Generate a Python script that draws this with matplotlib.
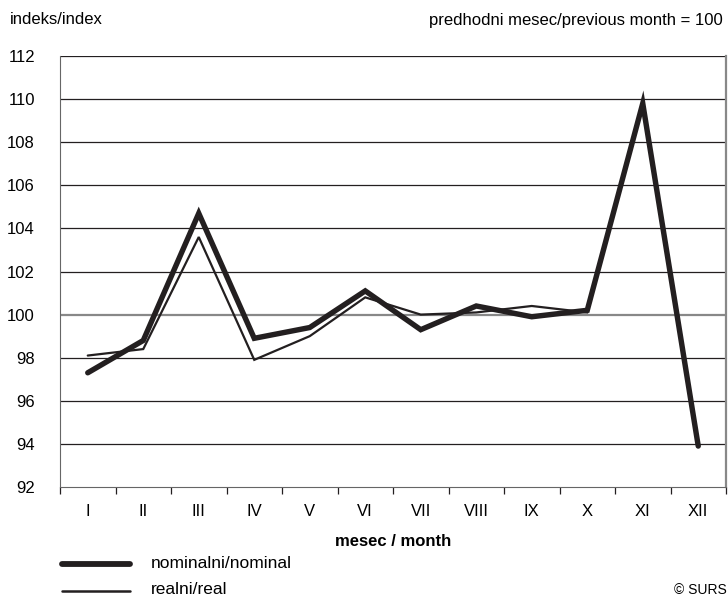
import matplotlib.pyplot as plt
import numpy as np

# vrednosti odčitane s slike
meseci = ['I', 'II', 'III', 'IV', 'V', 'VI', 'VII', 'VIII', 'IX', 'X', 'XI', 'XII']
nominalni = [97.3, 98.8, 104.7, 98.9, 99.4, 101.1, 99.3, 100.4, 99.9, 100.2, 109.8, 93.9]
realni = [98.1, 98.4, 103.6, 97.9, 99.0, 100.8, 100.0, 100.1, 100.4, 100.1, 109.9, 93.9]
y_ticks = list(range(92, 113, 2))

plt.rcParams['font.family'] = ['Liberation Sans Narrow', 'Liberation Sans', 'DejaVu Sans']
col = '#231f20'
fs = 12

fig = plt.figure(figsize=(7.28, 5.96), dpi=100)
ax = fig.add_axes([60 / 728, 109 / 596, 666 / 728, 431 / 596])

x = np.arange(len(meseci))
ax.plot(x, realni, color=col, lw=1.6, solid_joinstyle='miter', solid_capstyle='round', zorder=3)
ax.plot(x, nominalni, color=col, lw=3.9, solid_joinstyle='miter', solid_capstyle='round', zorder=4)

ax.set_xlim(-0.5, len(meseci) - 0.5)
ax.set_ylim(92, 112)
ax.set_yticks(y_ticks)
ax.set_yticklabels([str(v) for v in y_ticks], fontsize=fs)
for v in y_ticks:
    if v == 100:
        ax.axhline(v, color='#888888', lw=1.6, zorder=1)
    elif v != 92:
        ax.axhline(v, color=col, lw=0.9, zorder=1)
ax.tick_params(axis='y', length=0, pad=18)

ax.set_xticks(x)
ax.set_xticklabels(meseci, fontsize=fs)
ax.set_xticks(np.arange(-0.5, len(meseci)), minor=True)
ax.tick_params(axis='x', which='major', length=0, pad=12)
ax.tick_params(axis='x', which='minor', length=5, width=0.9, color=col, direction='out')
ax.set_xlabel('mesec / month', fontsize=fs, fontweight='bold', labelpad=11)

ax.spines['top'].set_visible(False)
ax.spines['left'].set_color('#666666')
ax.spines['bottom'].set_color('#666666')
ax.spines['right'].set_color('#888888')
ax.spines['right'].set_linewidth(1.6)

fig.text(10 / 728, 1 - 20 / 596, 'indeks/index', fontsize=fs, va='center', ha='left')
fig.text(723 / 728, 1 - 20 / 596, 'predhodni mesec/previous month = 100', fontsize=fs,
         va='center', ha='right')

# legenda
fig.add_artist(plt.Line2D([62 / 728, 130 / 728], [1 - 564 / 596] * 2, color=col, lw=4.2,
                          solid_capstyle='round'))
fig.add_artist(plt.Line2D([62 / 728, 130 / 728], [1 - 591 / 596] * 2, color=col, lw=1.8,
                          solid_capstyle='round'))
fig.text(151 / 728, 1 - 563 / 596, 'nominalni/nominal', fontsize=12.5, va='center')
fig.text(151 / 728, 1 - 590 / 596, 'realni/real', fontsize=12.5, va='center')
fig.text(727 / 728, 1 - 590 / 596, '© SURS', fontsize=10, va='center', ha='right')

fig.savefig('out.png', dpi=100)
